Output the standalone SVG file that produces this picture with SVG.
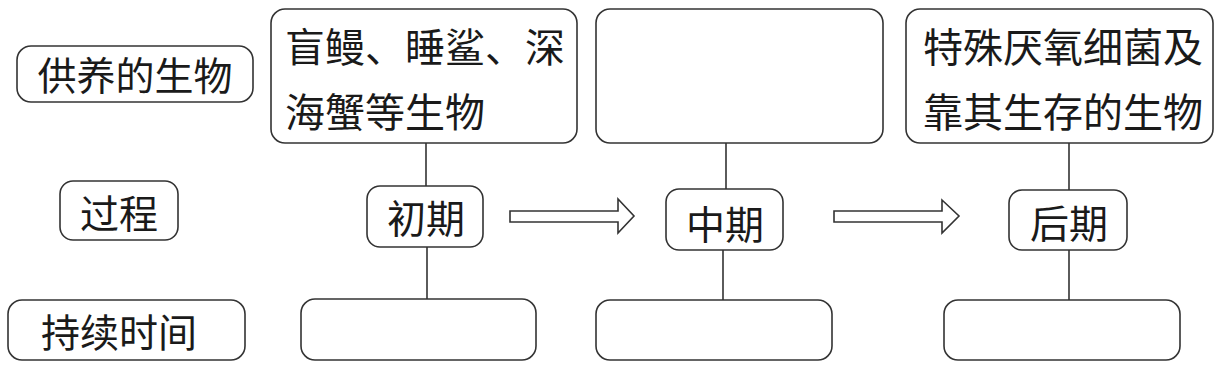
<svg xmlns="http://www.w3.org/2000/svg" width="1222" height="367" viewBox="0 0 1222 367">
<style>
.box{fill:#fff;stroke:#333;stroke-width:1.6}
.t{font-family:"Noto Sans CJK SC","Noto Sans",sans-serif;font-size:39px;fill:#1a1a1a;dominant-baseline:central}
.big{font-size:40px}
.c{text-anchor:middle}
.ln{stroke:#333;stroke-width:1.6;fill:none}
</style>
<rect width="1222" height="367" fill="#fff"/>
<g id="label-organisms"><rect class="box" x="17" y="46" width="236" height="56" rx="14"/><text class="t c" x="135" y="73">供养的生物</text></g>
<g id="label-process"><rect class="box" x="60" y="181" width="118" height="59" rx="13"/><text class="t c" x="119" y="211">过程</text></g>
<g id="label-duration"><rect class="box" x="8" y="300" width="237" height="60" rx="14"/><text class="t c" x="119" y="330">持续时间</text></g>
<g id="org-early"><rect class="box" x="271" y="9" width="306" height="134" rx="14"/><text class="t big" x="285" y="45">盲鳗、睡鲨、深</text><text class="t big" x="285" y="110">海蟹等生物</text></g>
<g id="org-mid"><rect class="box" x="596" y="9" width="287" height="134" rx="14"/></g>
<g id="org-late"><rect class="box" x="906" y="9" width="307" height="134" rx="14"/><text class="t big" x="923" y="45">特殊厌氧细菌及</text><text class="t big" x="923" y="110">靠其生存的生物</text></g>
<g id="stage-early"><rect class="box" x="367" y="186" width="116" height="61" rx="13"/><text class="t c" x="426" y="216">初期</text></g>
<g id="stage-mid"><rect class="box" x="666" y="189" width="117" height="61" rx="13"/><text class="t c" x="725" y="222">中期</text></g>
<g id="stage-late"><rect class="box" x="1009" y="190" width="118" height="60" rx="13"/><text class="t c" x="1069" y="221">后期</text></g>
<g id="dur-early"><rect class="box" x="301" y="299" width="235" height="61" rx="14"/></g>
<g id="dur-mid"><rect class="box" x="596" y="300" width="236" height="60" rx="14"/></g>
<g id="dur-late"><rect class="box" x="944" y="300" width="236" height="60" rx="14"/></g>
<g id="connectors">
<line class="ln" x1="426" y1="143" x2="426" y2="186"/>
<line class="ln" x1="427" y1="247" x2="427" y2="299"/>
<line class="ln" x1="726" y1="143" x2="726" y2="189"/>
<line class="ln" x1="723" y1="250" x2="723" y2="300"/>
<line class="ln" x1="1069" y1="143" x2="1069" y2="190"/>
<line class="ln" x1="1069" y1="250" x2="1069" y2="300"/>
<path class="ln" d="M510,211 H618 V199 L634,216 L618,233 V222 H510 Z"/>
<path class="ln" d="M834,211 H942 V200 L959,216 L942,233 V222 H834 Z"/>
</g>
</svg>
